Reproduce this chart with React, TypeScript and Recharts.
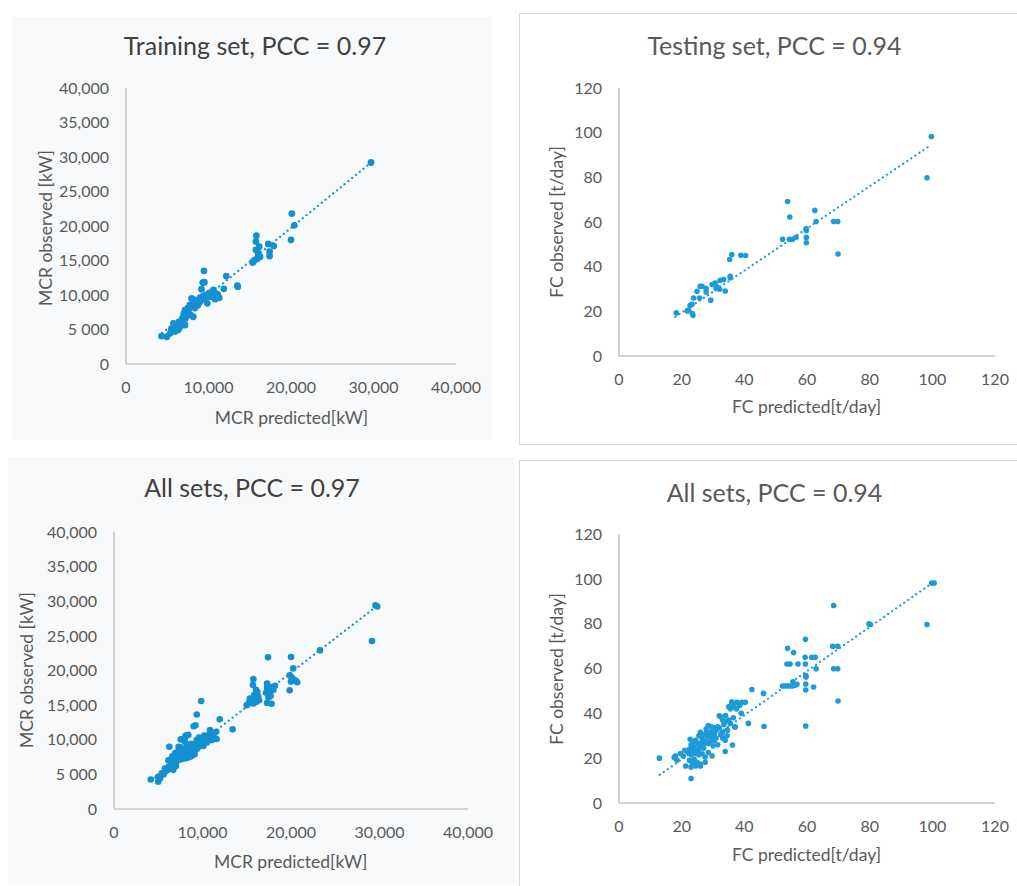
import React from 'react';
import { ScatterChart, Scatter, XAxis, YAxis, ReferenceLine } from 'recharts';

// ---- Axis ticks ----
const mcrXTicks = [0, 10000, 20000, 30000, 40000];
const mcrXTickLabels = ['0', '10,000', '20,000', '30,000', '40,000'];
const mcrYTicks = [0, 5000, 10000, 15000, 20000, 25000, 30000, 35000, 40000];
const mcrYTickLabels = ['0', '5 000', '10,000', '15,000', '20,000', '25,000', '30,000', '35,000', '40,000'];
const fcTicks = [0, 20, 40, 60, 80, 100, 120];
const fcTickLabels = ['0', '20', '40', '60', '80', '100', '120'];

// ---- Titles and axis titles ----
const titles = ['Training set, PCC = 0.97', 'Testing set, PCC = 0.94', 'All sets, PCC = 0.97', 'All sets, PCC = 0.94'];
const mcrXTitle = 'MCR predicted[kW]';
const mcrYTitle = 'MCR observed [kW]';
const fcXTitle = 'FC predicted[t/day]';
const fcYTitle = 'FC observed [t/day]';

// ---- MCR, training set: [predicted, observed] ----
const trainingMcr: [number, number][] = [
  [29700, 29200], [20100, 21800], [20400, 20100], [20000, 18000], [15800, 18600], [15750, 17750],
  [15750, 16550], [16150, 17000], [17250, 17400], [17900, 17100], [17400, 16300], [17400, 15650],
  [16000, 16100], [16250, 15550], [15650, 15100], [15350, 14700], [15950, 15300], [16050, 15600],
  [15450, 14900], [13500, 11350], [13550, 11200], [12150, 12750], [11850, 10900], [9450, 13500],
  [9300, 11800], [9500, 11850], [9150, 10850], [10600, 10750], [10300, 9750], [10800, 9400],
  [9800, 9750], [9350, 9850], [9850, 8800], [8950, 9000], [7950, 9500], [8150, 8800],
  [8550, 8800], [8350, 8100], [7750, 8550], [7150, 7800], [7350, 7350], [8150, 6850],
  [6950, 6850], [6750, 6150], [6550, 5400], [7150, 5650], [5750, 5900], [5950, 4700],
  [5350, 4450], [4950, 3950], [4300, 4050], [6350, 4950], [10100, 10300], [10500, 9900],
  [11100, 10100], [11300, 9600], [9600, 9300], [8700, 8500], [7600, 7900], [6400, 6100],
  [7000, 7300], [5500, 5100], [7800, 7100], [9000, 9600], [8900, 9300], [9700, 10000],
  [7500, 8100], [6800, 6500], [7200, 6600], [8400, 9300], [10900, 10200], [6100, 5400],
];
const trainingMcrTrend: [number, number][] = [[4400, 4500], [29700, 29200]];

// ---- FC, testing set: [predicted, observed] ----
const testingFc: [number, number][] = [
  [99.7, 98.3], [98.3, 79.8], [53.8, 69.2], [54.5, 62.2], [62.5, 65.2], [62.9, 60.2],
  [68.5, 60.2], [69.8, 60.2], [69.9, 45.7], [59.7, 56.9], [59.8, 56.2], [59.8, 53.1],
  [59.8, 50.7], [56.5, 53.2], [55.4, 52.3], [54.4, 52.3], [52.2, 52.3], [36.0, 45.4],
  [35.3, 43.2], [38.9, 45.1], [40.4, 45.0], [35.5, 35.7], [35.5, 35.0], [33.4, 34.2],
  [32.3, 33.9], [33.9, 29.1], [30.7, 32.7], [29.7, 32.0], [31.0, 30.2], [32.1, 29.9],
  [31.3, 30.9], [29.3, 25.0], [27.8, 30.2], [27.8, 28.7], [26.5, 31.2], [25.9, 31.2],
  [24.9, 29.0], [23.8, 26.0], [25.7, 26.0], [22.7, 22.7], [23.3, 23.2], [22.2, 20.5],
  [21.8, 20.2], [23.6, 18.2], [23.4, 19.0], [18.3, 19.3],
];
const testingFcTrend: [number, number][] = [[18, 17.5], [99.6, 94.5]];

// ---- MCR, all sets: [predicted, observed] ----
const allMcr: [number, number][] = [
  [29550, 29400], [29750, 29250], [29150, 24250], [23270, 22900], [20000, 21950], [17400, 21900],
  [20250, 20300], [19850, 19300], [20100, 19000], [20550, 18500], [20000, 18400], [20300, 18700],
  [19850, 17150], [15750, 18750], [15700, 17900], [16050, 17200], [15850, 16450], [16200, 16900],
  [15350, 15950], [15750, 15250], [16100, 15500], [15000, 15000], [15500, 15300], [15300, 15500],
  [16400, 15700], [17300, 18100], [17300, 17500], [17600, 16900], [17800, 17600], [18200, 17800],
  [17500, 16600], [17300, 15300], [17800, 15200], [18000, 17200], [17450, 16100], [13400, 11500],
  [11950, 12950], [11550, 11150], [9850, 15600], [9350, 13650], [9200, 12100], [9000, 11950],
  [8400, 10700], [8000, 10200], [7550, 10050], [6250, 9000], [10850, 11400], [10650, 10450],
  [11050, 9950], [10300, 9950], [9350, 9950], [10450, 10400], [9900, 9450], [9550, 9000],
  [9150, 8500], [8800, 8050], [8200, 9000], [7650, 8500], [8600, 7550], [8000, 7300],
  [6900, 8050], [6500, 7300], [7250, 7050], [7250, 7800], [6900, 6600], [6150, 7050],
  [6150, 6100], [5750, 5850], [6700, 5650], [5400, 5150], [5000, 4650], [5000, 3950],
  [4150, 4250], [8500, 8800], [8900, 8300], [7800, 7800], [7100, 7400], [9700, 9700],
  [10100, 9100], [10900, 10500], [11400, 10200], [8300, 7400], [7000, 6200], [6600, 6800],
  [5600, 5000], [8700, 9400], [9300, 9200], [7400, 8200], [6400, 6300], [8100, 8600],
  [9600, 10300], [7700, 7600], [8900, 9100], [6800, 7100], [9400, 8700], [7200, 8300],
  [7500, 8900], [7900, 8200], [8300, 8000], [8600, 8400], [9000, 8700], [9200, 9400],
  [9500, 9600], [9800, 10100], [10200, 10600], [10500, 9600], [10800, 10900], [11200, 10600],
  [11600, 10100], [6600, 7600], [6400, 6900], [6800, 7600], [7000, 6800], [7600, 7200],
  [8200, 7800], [5800, 5400], [6000, 5600], [5200, 4400], [6300, 5800], [8800, 7700],
  [9100, 7900], [7300, 9000], [8000, 9700], [8100, 10600], [15900, 15800], [17200, 16800],
  [17700, 16300], [20700, 18300], [16300, 16200],
];
const allMcrTrend: [number, number][] = [[4200, 4100], [29600, 29200]];

// ---- FC, all sets: [predicted, observed] ----
const allFc: [number, number][] = [
  [99.8, 98.1], [100.6, 98.1], [98.3, 79.6], [68.5, 88.1], [79.8, 79.9], [80.2, 79.6],
  [68.2, 69.9], [69.8, 69.9], [59.5, 73.0], [53.8, 69.0], [55.7, 67.1], [53.6, 62.0],
  [54.6, 62.0], [57.1, 62.0], [59.5, 62.0], [59.4, 65.0], [61.5, 65.0], [62.6, 65.0],
  [62.9, 59.9], [68.5, 59.9], [69.8, 59.9], [69.9, 45.5], [59.6, 56.9], [59.7, 56.2],
  [59.6, 53.1], [59.6, 50.4], [62.1, 51.7], [52.2, 52.2], [53.0, 52.2], [53.8, 52.2],
  [54.6, 52.2], [55.4, 52.2], [56.3, 52.6], [56.8, 53.0], [55.5, 54.1], [59.6, 34.3],
  [46.3, 34.1], [46.1, 48.9], [42.4, 50.6], [41.3, 35.5], [39.0, 40.0], [36.0, 45.2],
  [37.6, 44.9], [39.2, 44.9], [40.3, 44.9], [35.0, 42.9], [36.6, 42.9], [36.9, 34.0],
  [36.2, 25.9], [33.9, 23.0], [32.0, 38.9], [29.7, 21.0], [27.5, 18.2], [25.9, 17.4],
  [23.0, 10.9], [21.3, 16.5], [12.9, 20.0], [17.6, 20.3], [18.5, 19.1], [19.6, 22.1],
  [22.7, 28.4], [37.1, 33.9], [34.6, 32.5], [33.9, 28.0], [33.1, 29.0], [32.3, 38.7],
  [34.0, 36.5], [33.5, 35.0], [35.0, 37.0], [31.5, 34.0], [30.8, 33.5], [29.5, 34.0],
  [28.5, 34.5], [27.8, 33.0], [29.0, 31.5], [30.5, 31.0], [31.0, 29.0], [29.8, 29.5],
  [28.3, 29.5], [27.2, 30.5], [26.0, 31.5], [25.5, 30.0], [24.5, 28.0], [25.0, 26.5],
  [26.3, 27.0], [27.5, 27.5], [28.5, 26.5], [29.5, 27.8], [30.0, 25.5], [27.0, 24.5],
  [26.0, 25.0], [24.0, 25.0], [23.0, 26.0], [22.5, 24.0], [23.5, 23.0], [24.5, 22.0],
  [25.5, 21.5], [26.5, 22.0], [27.5, 20.5], [23.0, 21.5], [22.0, 22.5], [21.0, 23.5],
  [24.0, 19.5], [25.0, 18.0], [23.5, 17.5], [22.5, 19.0], [26.0, 16.5], [24.5, 16.5],
  [28.5, 22.5], [31.5, 26.0], [33.0, 31.5], [34.5, 30.0], [35.5, 35.5], [36.5, 38.0],
  [37.5, 42.0], [38.5, 43.5], [34.0, 39.0], [33.0, 37.0], [20.5, 21.0], [18.0, 21.0],
  [30.0, 33.0], [31.0, 32.5], [32.0, 33.5], [29.0, 30.0], [28.0, 31.5], [26.5, 29.0],
  [27.0, 26.0], [25.5, 24.0], [24.0, 27.5], [24.8, 23.5], [32.5, 30.5], [35.5, 42.0],
  [36.0, 44.0], [30.5, 28.0], [23.0, 16.0],
];
const allFcTrend: [number, number][] = [[13, 12.6], [99.6, 97.8]];

const FONT = 'Lato, "Open Sans", sans-serif';
const AXIS_GREY = '#c6c6c6';
const TICK_GREY = '#595959';

const toPoints = (pairs: [number, number][]) => pairs.map(([x, y]) => ({ x, y }));

type PanelProps = {
  left: number;
  top: number;
  width: number;
  height: number;
  margin: { top: number; right: number; bottom: number; left: number };
  data: [number, number][];
  trend: [number, number][];
  domain: [number, number];
  xTicks: number[];
  xLabels: string[];
  yTicks: number[];
  yLabels: string[];
  radius: number;
  color: string;
  background: string;
  border?: boolean;
};

function Panel(p: PanelProps) {
  const pts = toPoints(p.data);
  const dot = (props: any) => <circle cx={props.cx} cy={props.cy} r={p.radius} fill={p.color} />;
  const tickStyle = { fill: TICK_GREY, fontSize: 16, fontFamily: FONT };
  return (
    <div
      style={{
        position: 'absolute',
        left: p.left,
        top: p.top,
        width: p.width,
        height: p.height,
        background: p.background,
        boxSizing: 'border-box',
        borderLeft: p.border ? '1.5px solid #d9d9d9' : 'none',
        borderTop: p.border ? '1.5px solid #d9d9d9' : 'none',
        borderBottom: p.border ? '1.5px solid #d9d9d9' : 'none',
      }}
    >
      <div style={{ position: 'absolute', left: p.border ? -1.5 : 0, top: p.border ? -1.5 : 0 }}>
        <ScatterChart width={p.width} height={p.height} margin={p.margin}>
          <XAxis
            type="number"
            dataKey="x"
            domain={p.domain}
            ticks={p.xTicks}
            interval={0}
            tickFormatter={(v: number) => p.xLabels[p.xTicks.indexOf(v)]}
            tickLine={false}
            tickSize={0}
            tickMargin={18}
            axisLine={{ stroke: AXIS_GREY, strokeWidth: 1.6 }}
            tick={tickStyle}
            height={30}
          />
          <YAxis
            type="number"
            dataKey="y"
            domain={p.domain}
            ticks={p.yTicks}
            interval={0}
            tickFormatter={(v: number) => p.yLabels[p.yTicks.indexOf(v)]}
            tickLine={false}
            tickSize={0}
            tickMargin={17}
            axisLine={{ stroke: AXIS_GREY, strokeWidth: 1.6 }}
            tick={tickStyle}
            width={60}
          />
          <ReferenceLine
            segment={[
              { x: p.trend[0][0], y: p.trend[0][1] },
              { x: p.trend[1][0], y: p.trend[1][1] },
            ]}
            stroke={p.color}
            strokeWidth={2.2}
            strokeDasharray="0.1 4.8"
            strokeLinecap="round"
            ifOverflow="visible"
          />
          <Scatter data={pts} fill={p.color} shape={dot} isAnimationActive={false} />
        </ScatterChart>
      </div>
    </div>
  );
}

export default function App() {
  return (
    <div
      style={{
        position: 'absolute',
        left: 0,
        top: 0,
        width: 1017,
        height: 886,
        overflow: 'hidden',
        background: '#ffffff',
        fontFamily: FONT,
      }}
    >
      <Panel
        left={12}
        top={17}
        width={480}
        height={423}
        margin={{ top: 71, right: 36, bottom: 46, left: 54 }}
        data={trainingMcr}
        trend={trainingMcrTrend}
        domain={[0, 40000]}
        xTicks={mcrXTicks}
        xLabels={mcrXTickLabels}
        yTicks={mcrYTicks}
        yLabels={mcrYTickLabels}
        radius={3.4}
        color="#1490d0"
        background="#f8f9fa"
      />
      <Panel
        left={519}
        top={13}
        width={500}
        height={432}
        margin={{ top: 75, right: 24, bottom: 59, left: 40 }}
        data={testingFc}
        trend={testingFcTrend}
        domain={[0, 120]}
        xTicks={fcTicks}
        xLabels={fcTickLabels}
        yTicks={fcTicks}
        yLabels={fcTickLabels}
        radius={2.8}
        color="#1c9bd8"
        background="#ffffff"
        border
      />
      <Panel
        left={8}
        top={457}
        width={507}
        height={428}
        margin={{ top: 75, right: 47, bottom: 46, left: 46 }}
        data={allMcr}
        trend={allMcrTrend}
        domain={[0, 40000]}
        xTicks={mcrXTicks}
        xLabels={mcrXTickLabels}
        yTicks={mcrYTicks}
        yLabels={mcrYTickLabels}
        radius={3.3}
        color="#1490d0"
        background="#f8f9fa"
      />
      <Panel
        left={519}
        top={460}
        width={500}
        height={428}
        margin={{ top: 74, right: 24, bottom: 55, left: 40 }}
        data={allFc}
        trend={allFcTrend}
        domain={[0, 120]}
        xTicks={fcTicks}
        xLabels={fcTickLabels}
        yTicks={fcTicks}
        yLabels={fcTickLabels}
        radius={2.8}
        color="#1c9bd8"
        background="#ffffff"
        border
      />
      <svg
        width={1017}
        height={886}
        style={{ position: 'absolute', left: 0, top: 0, pointerEvents: 'none' }}
        fontFamily={FONT}
      >
        <g fontSize={25} textAnchor="middle">
          <text x={255} y={55} fill="#404040">{titles[0]}</text>
          <text x={774.5} y={55} fill="#595959">{titles[1]}</text>
          <text x={252} y={497} fill="#404040">{titles[2]}</text>
          <text x={774.5} y={501.5} fill="#595959">{titles[3]}</text>
        </g>
        <g fontSize={17.5} textAnchor="middle" fill={TICK_GREY}>
          <text x={291.5} y={424}>{mcrXTitle}</text>
          <text x={52} y={228} transform="rotate(-90 52 228)">{mcrYTitle}</text>
          <text x={806.5} y={413}>{fcXTitle}</text>
          <text x={563} y={222} transform="rotate(-90 563 222)">{fcYTitle}</text>
          <text x={290.7} y={868}>{mcrXTitle}</text>
          <text x={33} y={670} transform="rotate(-90 33 670)">{mcrYTitle}</text>
          <text x={806.5} y={860.5}>{fcXTitle}</text>
          <text x={563} y={669} transform="rotate(-90 563 669)">{fcYTitle}</text>
        </g>
      </svg>
    </div>
  );
}
